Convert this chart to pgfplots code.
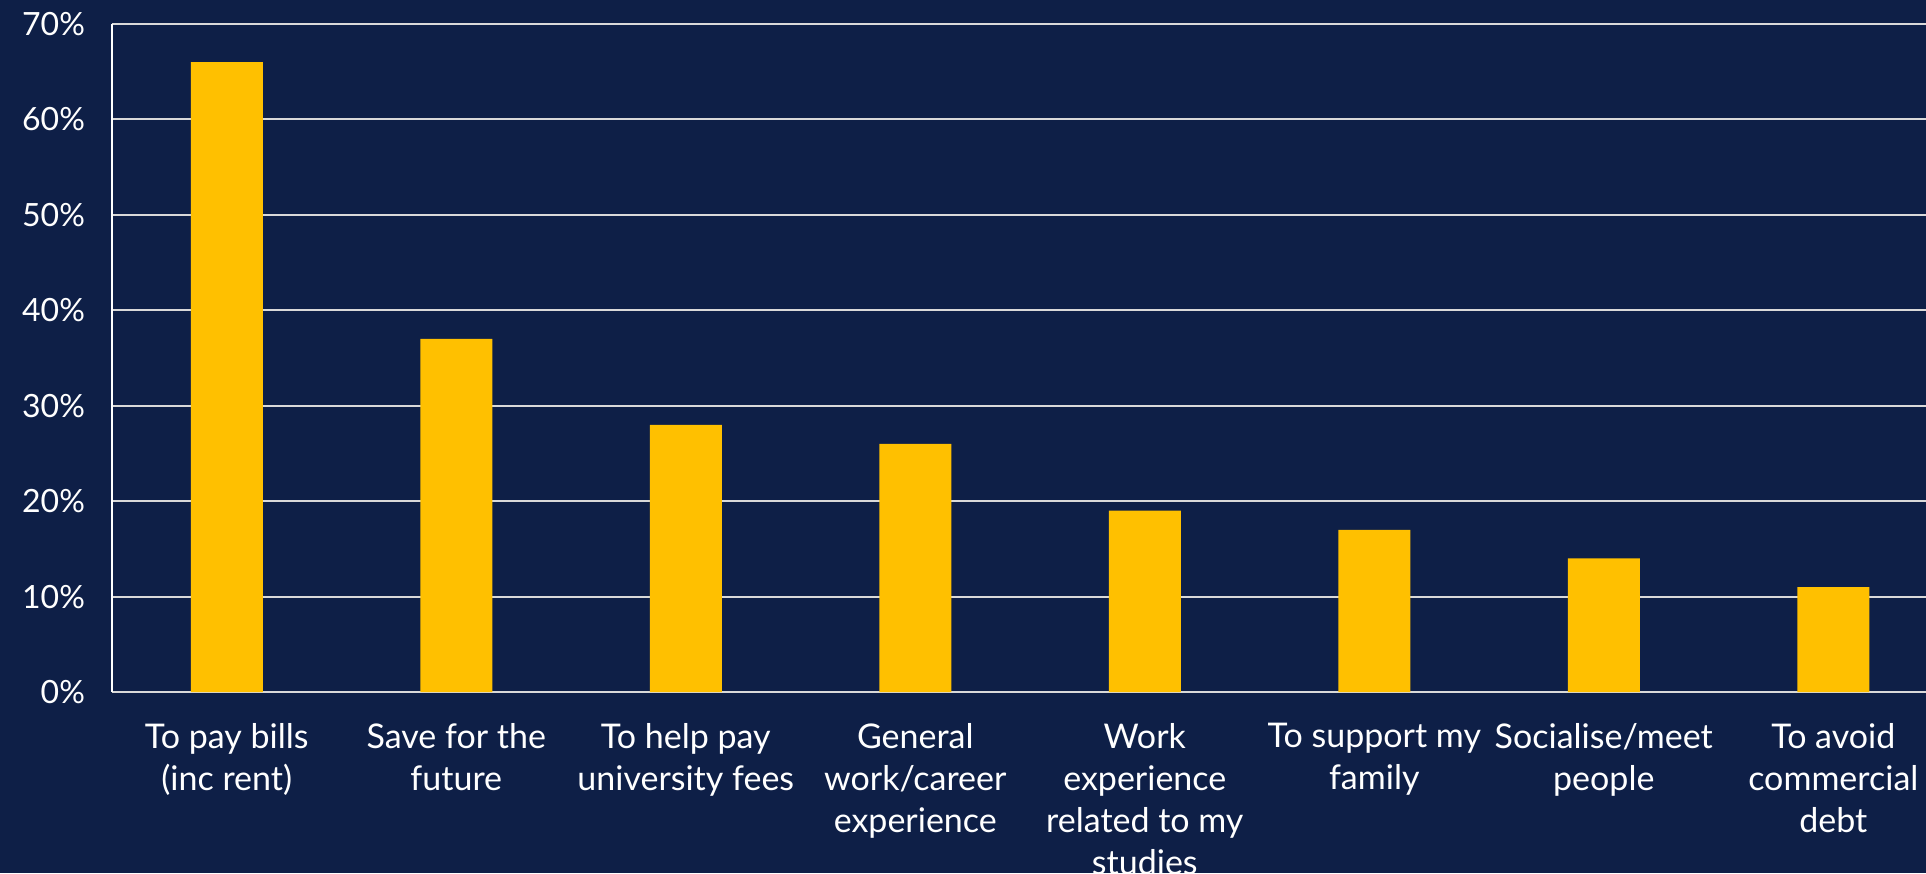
\documentclass[border=0pt]{standalone}
\usepackage{pgfplots}
\pgfplotsset{compat=1.18}
\usepackage{fontspec}
\setmainfont{Lato}
\definecolor{bg}{RGB}{14,31,71}
\definecolor{barcol}{RGB}{255,192,0}
\definecolor{gridcol}{RGB}{217,217,217}

\begin{document}
\begin{tikzpicture}
% page: 1926 x 873 px, 1 px = 0.5pt
\fill[bg] (-56pt,-90.5pt) rectangle (907pt,346pt);
\useasboundingbox (-56pt,-90.5pt) rectangle (907pt,346pt);
\begin{axis}[
  at={(0,0)}, anchor=south west,
  scale only axis,
  width=907pt, height=334pt,
  xmin=-0.5, xmax=7.404,
  ymin=0, ymax=70,
  axis x line=bottom, axis y line=left,
  x axis line style={-, draw=gridcol, line width=1pt},
  y axis line style={-, draw=white, line width=1pt},
  ytick={0,10,...,70},
  yticklabel={\pgfmathprintnumber{\tick}\%},
  /pgf/number format/assume math mode=true,
  ymajorgrids,
  grid style={draw=gridcol, line width=1pt},
  major tick length=0pt,
  xtick={0,...,7},
  xticklabels={
    To pay bills\\(inc rent),
    Save for the\\future,
    To help pay\\university fees,
    General\\work/career\\experience,
    Work\\experience\\related to my\\studies,
    To support my\\family,
    Socialise/meet\\people,
    To avoid\\commercial\\debt},
  xticklabel style={align=center, text=white, font=\fontsize{17pt}{21pt}\selectfont, yshift=-12pt},
  yticklabel style={text=white, font=\fontsize{16pt}{19pt}\selectfont, xshift=-10pt},
  ybar, bar width=36pt,
]
\addplot[fill=barcol, draw=none] coordinates {
  (0,66) (1,37) (2,28) (3,26) (4,19) (5,17) (6,14) (7,11)
};
\end{axis}
\end{tikzpicture}
\end{document}
